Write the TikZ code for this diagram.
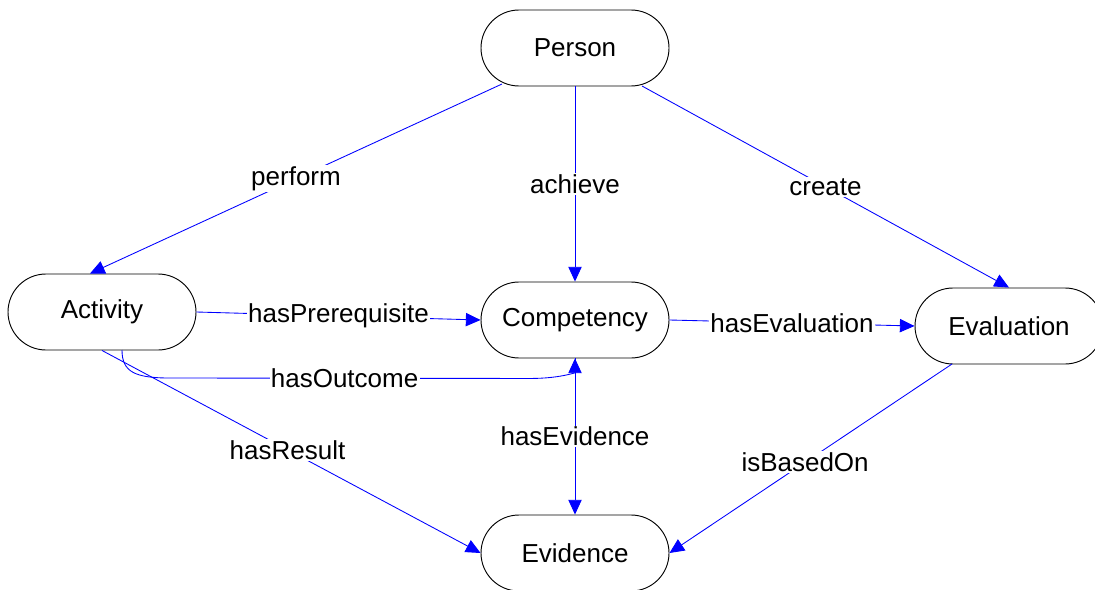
\documentclass[tikz,border=0pt]{standalone}
\usepackage{fontspec}
\setmainfont{Liberation Sans}
\usetikzlibrary{shapes.misc,arrows.meta,calc}
\begin{document}
\begin{tikzpicture}[x=0.75pt,y=-0.75pt,
  concept/.style={rounded rectangle, draw=black, line width=0.7pt, fill=white,
    minimum width=141pt, minimum height=57pt, inner sep=0pt,
    font=\fontsize{19.5}{23}\selectfont},
  rel/.style={draw=blue, line width=0.65pt, -{Triangle[length=11pt,width=10pt]}},
  lbl/.style={fill=white, inner sep=1pt, text=black, font=\fontsize{19.5}{23}\selectfont}]
\useasboundingbox (0,0) rectangle (1095,589);
\clip (0,0) rectangle (1095,589);

% concepts
\node[concept] (person) at (575,48)  {Person};
\node[concept] (act)    at (102,312) {Activity};
\node[concept] (comp)   at (575,320) {Competency};
\node[concept] (eval)   at (1009,326) {Evaluation};
\node[concept] (evid)   at (575,553) {Evidence};

% relations
\draw[rel] ($(person.center)+(-73,36)$) -- node[lbl] {perform} ($(act.north)+(-12,0)$);
\draw[rel] (person.south) -- node[lbl] {achieve} (comp.north);
\draw[rel] ($(person.center)+(67,38)$) -- node[lbl] {create} (eval.north);
\draw[rel] (act.east) -- node[lbl] {hasPrerequisite} (comp.west);
\draw[rel] (comp.east) -- node[lbl] {hasEvaluation} (eval.west);
\draw[rel] ($(act.center)+(20,38)$) .. controls +(0,22) and +(-35,0) .. ($(act.center)+(68,66)$)
  -- node[lbl,pos=0.485] {hasOutcome} ($(comp.south)+(-45,20)$)
  .. controls +(30,0) and +(0,14) .. (comp.south);
\draw[rel] (act.south) -- node[lbl,pos=0.49] {hasResult} (evid.west);
\draw[rel] (comp.south) -- node[lbl] {hasEvidence} (evid.north);
\draw[rel] ($(eval.center)+(-57,38)$) -- node[lbl,pos=0.52] {isBasedOn} (evid.east);
\end{tikzpicture}
\end{document}
